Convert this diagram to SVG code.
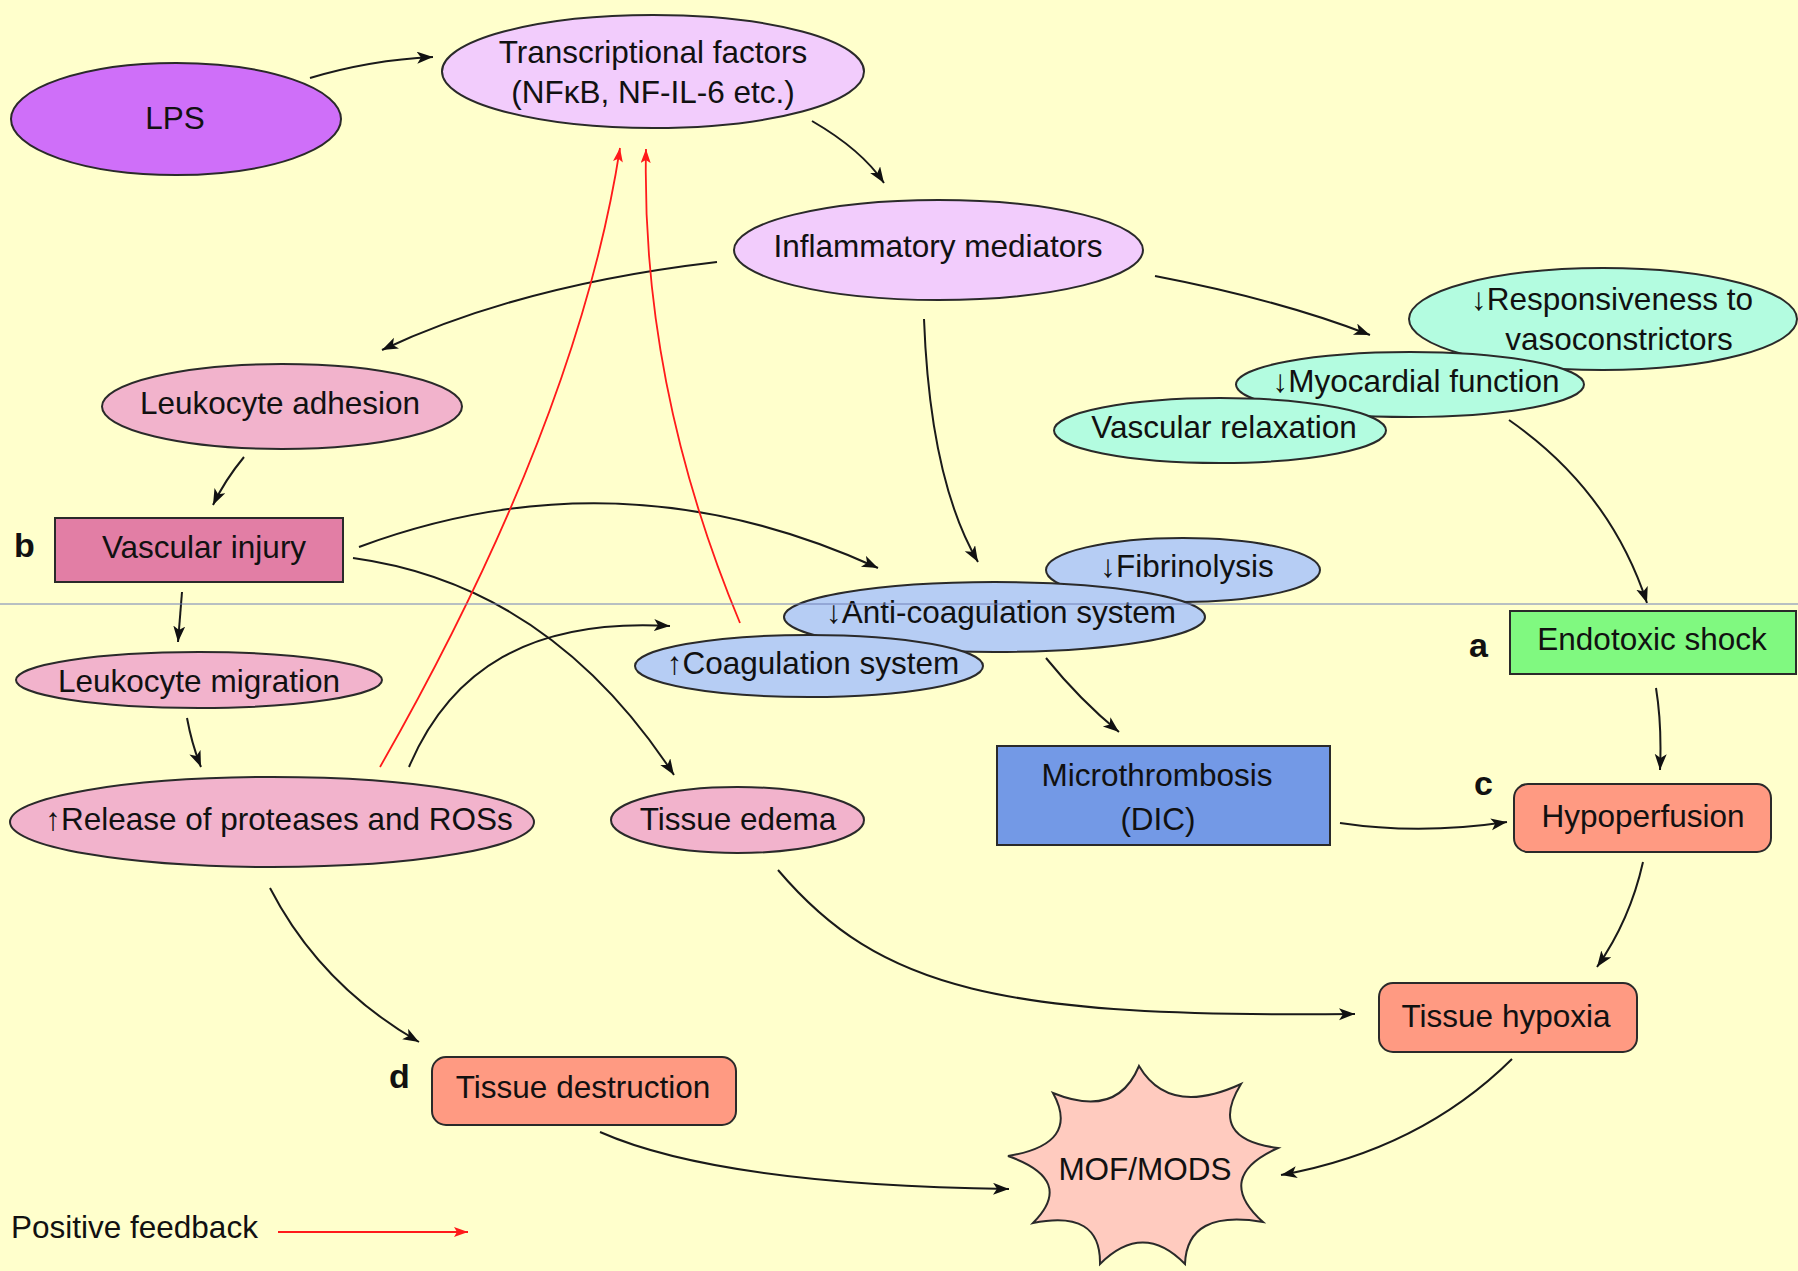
<svg xmlns="http://www.w3.org/2000/svg" width="1798" height="1271" viewBox="0 0 1798 1271">
<defs>
<marker id="ah" markerUnits="userSpaceOnUse" markerWidth="18" markerHeight="14" refX="16" refY="6" orient="auto"><path d="M0,0 L16,6 L0,12 L4,6 z" fill="#111"/></marker>
<marker id="ahr" markerUnits="userSpaceOnUse" markerWidth="16" markerHeight="12" refX="14" refY="5" orient="auto"><path d="M0,0 L14,5 L0,10 L3,5 z" fill="#ff1a1a"/></marker>
<style>
text{font-family:"Liberation Sans",Arial,sans-serif;font-size:31.5px;fill:#111;text-anchor:middle}
.lbl{font-weight:bold;font-size:34px;text-anchor:start}
.n{stroke:#2a2a2a;stroke-width:2}
.e{fill:none;stroke:#1a1a1a;stroke-width:2;marker-end:url(#ah)}
.r{fill:none;stroke:#ff1a1a;stroke-width:1.8;marker-end:url(#ahr)}
.pink{fill:#f2b3cc}.lav{fill:#f2ccfc}.teal{fill:#b3fce0}.blue{fill:#b6cdf4}.salmon{fill:#ff9a82}
</style>
</defs>
<rect width="1798" height="1271" fill="#ffffcc"/>

<g id="connectors">
<path class="e" d="M310,78 Q370,60 433,57"/>
<path class="e" d="M812,121 Q862,150 884,183"/>
<path class="e" d="M717,262 Q520,285 382,350"/>
<path class="e" d="M1155,276 Q1280,300 1370,335"/>
<path class="e" d="M924,319 Q930,480 978,562"/>
<path class="e" d="M244,457 Q225,480 213,505"/>
<path class="e" d="M359,547 Q620,450 878,568"/>
<path class="e" d="M353,558 Q550,585 674,775"/>
<path class="e" d="M182,592 L178,642"/>
<path class="e" d="M187,718 Q192,745 201,767"/>
<path class="e" d="M409,767 C450,670 530,618 670,626"/>
<path class="e" d="M1046,658 Q1080,700 1119,732"/>
<path class="e" d="M1509,420 Q1610,490 1647,603"/>
<path class="e" d="M1656,688 Q1662,725 1660,770"/>
<path class="e" d="M1340,823 Q1420,835 1507,822"/>
<path class="e" d="M1643,862 Q1630,920 1597,967"/>
<path class="e" d="M778,870 C880,990 1000,1018 1355,1014"/>
<path class="e" d="M270,888 Q320,985 419,1042"/>
<path class="e" d="M600,1132 Q720,1185 1009,1189"/>
<path class="e" d="M1512,1059 Q1420,1150 1281,1175"/>
<path class="r" d="M380,767 Q578,420 620,148"/>
<path class="r" d="M740,623 Q641,386 646,149"/>
</g>

<g id="lps"><ellipse class="n" cx="176" cy="119" rx="165" ry="56" fill="#cf6ff9"/><text x="175" y="129">LPS</text></g>
<g id="transcriptional"><ellipse class="n lav" cx="653" cy="71.5" rx="211" ry="56.5"/><text x="653" y="63">Transcriptional factors</text><text x="653" y="103">(NFκB, NF-IL-6 etc.)</text></g>
<g id="inflammatory"><ellipse class="n lav" cx="938.5" cy="250" rx="204.5" ry="50"/><text x="938" y="257">Inflammatory mediators</text></g>
<g id="leuko-adhesion"><ellipse class="n pink" cx="282" cy="406.5" rx="180" ry="42.5"/><text x="280" y="414">Leukocyte adhesion</text></g>
<g id="vascular-injury"><rect class="n" x="55" y="518" width="288" height="64" fill="#e27ea5"/><text x="204" y="558">Vascular injury</text><text class="lbl" x="14" y="557">b</text></g>
<g id="leuko-migration"><ellipse class="n pink" cx="199" cy="680" rx="183" ry="28"/><text x="199" y="692">Leukocyte migration</text></g>
<g id="release"><ellipse class="n pink" cx="272" cy="822" rx="262" ry="45"/><text x="279" y="830">↑Release of proteases and ROSs</text></g>
<g id="tissue-edema"><ellipse class="n pink" cx="737.5" cy="820" rx="126.5" ry="33"/><text x="738" y="830">Tissue edema</text></g>

<g id="responsiveness"><ellipse class="n teal" cx="1603" cy="319" rx="194" ry="51"/><text x="1612" y="310">↓Responsiveness to</text><text x="1619" y="350">vasoconstrictors</text></g>
<g id="myocardial"><ellipse class="n teal" cx="1410" cy="384.5" rx="174" ry="32.5"/><text x="1416" y="392">↓Myocardial function</text></g>
<g id="vascular-relaxation"><ellipse class="n teal" cx="1220" cy="430.5" rx="166" ry="32.5"/><text x="1224" y="438">Vascular relaxation</text></g>

<g id="fibrinolysis"><ellipse class="n blue" cx="1183" cy="570" rx="137" ry="32"/><text x="1187" y="577">↓Fibrinolysis</text></g>
<g id="anticoag"><ellipse class="n blue" cx="994.5" cy="617" rx="210.5" ry="35"/><text x="1001" y="623">↓Anti-coagulation system</text></g>
<g id="coag"><ellipse class="n blue" cx="809" cy="666" rx="174" ry="31"/><text x="813" y="674">↑Coagulation system</text></g>

<g id="endotoxic-shock"><rect class="n" x="1510" y="611" width="286" height="63" fill="#80f980"/><text x="1652" y="650">Endotoxic shock</text><text class="lbl" x="1469" y="657">a</text></g>
<g id="microthrombosis"><rect class="n" x="997" y="746" width="333" height="99" fill="#7399e6"/><text x="1157" y="786">Microthrombosis</text><text x="1158" y="830">(DIC)</text></g>
<g id="hypoperfusion"><rect class="n salmon" x="1514" y="784" width="257" height="68" rx="14"/><text x="1643" y="827">Hypoperfusion</text><text class="lbl" x="1474" y="795">c</text></g>
<g id="tissue-hypoxia"><rect class="n salmon" x="1379" y="983" width="258" height="69" rx="14"/><text x="1506" y="1027">Tissue hypoxia</text></g>
<g id="tissue-destruction"><rect class="n salmon" x="432" y="1057" width="304" height="68" rx="14"/><text x="583" y="1098">Tissue destruction</text><text class="lbl" x="389" y="1088">d</text></g>
<g id="mof"><path class="n" fill="#ffcbbf" stroke-width="1.6" d="M1139,1066 Q1169,1117 1241,1084 Q1207,1139 1278,1148 Q1213,1177 1263,1222 Q1187,1209 1185,1264 Q1143,1221 1100,1264 Q1101,1209 1033,1223 Q1076,1180 1008,1156 Q1081,1144 1053,1093 Q1117,1119 1139,1066 z"/><text x="1145" y="1180">MOF/MODS</text></g>

<g id="legend"><text x="11" y="1238" style="text-anchor:start">Positive feedback</text><path class="r" d="M278,1232 L468,1232"/></g>
<line x1="0" y1="604" x2="1798" y2="604" stroke="#7080b8" stroke-width="1"/>
</svg>
